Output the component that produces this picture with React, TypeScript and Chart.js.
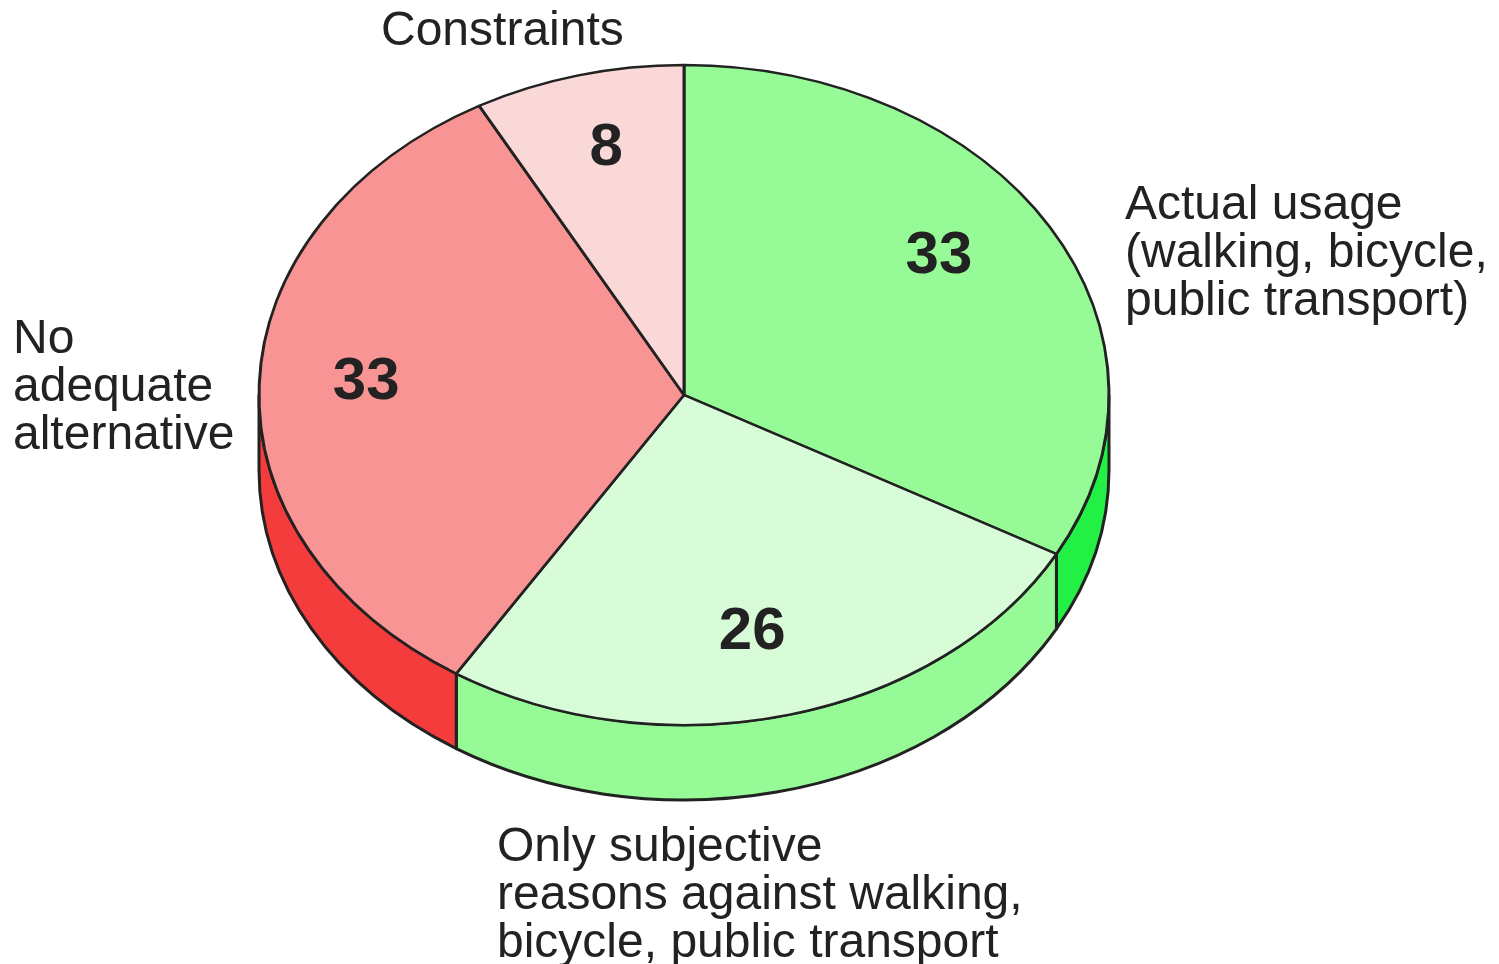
import React, { useEffect, useRef } from "react";
import { Chart, registerables } from "chart.js";

Chart.register(...registerables);

const categories = [
  "Actual usage (walking, bicycle, public transport)",
  "Only subjective reasons against walking, bicycle, public transport",
  "No adequate alternative",
  "Constraints",
];
const values = [33, 26, 33, 8];
const topColors = ["#96FA96", "#D8FCD8", "#F99494", "#FBD8D8"];
const sideColors = ["#22F044", "#96FA96", "#F43C3C", "#FBD8D8"];
const outerLabels: string[][] = [
  ["Actual usage", "(walking, bicycle,", "public transport)"],
  ["Only subjective", "reasons against walking,", "bicycle, public transport"],
  ["No", "adequate", "alternative"],
  ["Constraints"],
];
const outerLabelPos: [number, number][] = [
  [1125, 219],
  [497, 861],
  [13, 353],
  [381, 45],
];
const valueLabelRadius = [0.736, 0.73, 0.749, 0.774];
const valueLabelAngleOffset = [-4.8, 1.7, 1.6, 0.7];

const W = 1499;
const H = 964;
const CX = 684;
const CY = 395;
const RX = 425;
const TILT = 330 / 425;
const DEPTH = 75;
const INK = "#222222";
const FONT = '"Liberation Sans", Arial, Helvetica, sans-serif';

const pie3d = {
  id: "pie3d",
  beforeDatasetsDraw(chart: any) {
    const ctx = chart.ctx as CanvasRenderingContext2D;
    const arcs = chart.getDatasetMeta(0).data as any[];
    if (!arcs.length) return;
    const r = arcs[0].outerRadius;
    const ry = r * TILT;
    ctx.save();
    ctx.lineWidth = 3;
    ctx.strokeStyle = INK;
    ctx.lineJoin = "round";
    arcs.forEach((arc, i) => {
      const s = Math.max(arc.startAngle, 0);
      const e = Math.min(arc.endAngle, Math.PI);
      if (s >= e) return;
      ctx.beginPath();
      ctx.ellipse(CX, CY, r, ry, 0, s, e);
      ctx.ellipse(CX, CY + DEPTH, r, ry, 0, e, s, true);
      ctx.closePath();
      ctx.fillStyle = sideColors[i];
      ctx.fill();
      ctx.stroke();
    });
    ctx.restore();
    ctx.save();
    ctx.translate(CX, CY);
    ctx.scale(1, TILT);
    ctx.translate(-arcs[0].x, -arcs[0].y);
  },
  afterDatasetsDraw(chart: any) {
    const ctx = chart.ctx as CanvasRenderingContext2D;
    ctx.restore();
    const arcs = chart.getDatasetMeta(0).data as any[];
    if (!arcs.length) return;
    const r = arcs[0].outerRadius;
    const ry = r * TILT;
    ctx.save();
    ctx.fillStyle = INK;
    ctx.textAlign = "center";
    ctx.textBaseline = "middle";
    ctx.font = `bold 60px ${FONT}`;
    arcs.forEach((arc, i) => {
      const mid = (arc.startAngle + arc.endAngle) / 2 + (valueLabelAngleOffset[i] * Math.PI) / 180;
      const k = valueLabelRadius[i];
      const x = CX + r * k * Math.cos(mid);
      const y = CY + ry * k * Math.sin(mid);
      ctx.fillText(String(values[i]), x, y + 2);
    });
    ctx.textAlign = "left";
    ctx.textBaseline = "alphabetic";
    ctx.font = `48px ${FONT}`;
    outerLabels.forEach((lines, i) => {
      const [x, y] = outerLabelPos[i];
      lines.forEach((line, j) => ctx.fillText(line, x, y + j * 48));
    });
    ctx.restore();
  },
};

export default function App() {
  const ref = useRef<HTMLCanvasElement | null>(null);
  useEffect(() => {
    if (!ref.current) return;
    const chart = new Chart(ref.current, {
      type: "pie",
      data: {
        labels: categories,
        datasets: [
          {
            data: values,
            backgroundColor: topColors,
            borderColor: INK,
            borderWidth: 3,
            radius: RX,
            clip: false,
          } as any,
        ],
      },
      options: {
        responsive: false,
        animation: false,
        events: [],
        layout: { padding: 0 },
        plugins: {
          legend: { display: false },
          tooltip: { enabled: false },
          title: { display: false },
        },
      },
      plugins: [pie3d],
    });
    return () => chart.destroy();
  }, []);
  return (
    <div style={{ position: "absolute", left: 0, top: 0, width: W, height: H, background: "#ffffff" }}>
      <canvas ref={ref} width={W} height={H} style={{ display: "block", width: W, height: H }} />
    </div>
  );
}
